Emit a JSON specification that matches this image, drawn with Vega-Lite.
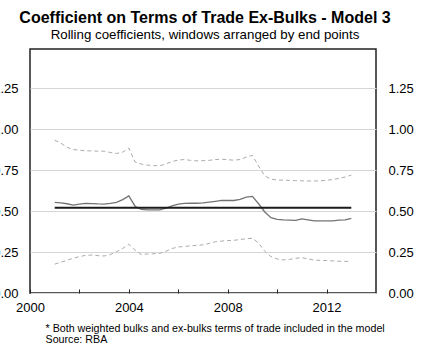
{
  "$schema": "https://vega.github.io/schema/vega-lite/v6.json",
  "width": 346,
  "height": 244,
  "autosize": {"type": "none"},
  "padding": {"left": 30, "top": 49, "right": 52, "bottom": 56},
  "config": {
    "font": "Liberation Sans",
    "view": {"stroke": "#222", "strokeWidth": 1.5},
    "axis": {"labelFont": "Liberation Sans", "labelFontSize": 13, "labelColor": "#000", "titleFont": "Liberation Sans"}
  },
  "title": {
    "text": "Coefficient on Terms of Trade Ex-Bulks - Model 3",
    "subtitle": "Rolling coefficients, windows arranged by end points",
    "font": "Liberation Sans",
    "subtitleFont": "Liberation Sans",
    "fontSize": 16,
    "fontWeight": "bold",
    "subtitleFontSize": 13.3,
    "subtitlePadding": 2,
    "color": "#000",
    "subtitleColor": "#000",
    "anchor": "middle",
    "dx": 2,
    "offset": 8
  },
  "data": {
    "values": [
      {"t": 2001.00, "coef": 0.553, "upper": 0.933, "lower": 0.176},
      {"t": 2001.25, "coef": 0.550, "upper": 0.915, "lower": 0.188},
      {"t": 2001.50, "coef": 0.545, "upper": 0.890, "lower": 0.200},
      {"t": 2001.75, "coef": 0.537, "upper": 0.876, "lower": 0.212},
      {"t": 2002.00, "coef": 0.543, "upper": 0.872, "lower": 0.222},
      {"t": 2002.25, "coef": 0.547, "upper": 0.868, "lower": 0.230},
      {"t": 2002.50, "coef": 0.546, "upper": 0.868, "lower": 0.232},
      {"t": 2002.75, "coef": 0.544, "upper": 0.866, "lower": 0.228},
      {"t": 2003.00, "coef": 0.543, "upper": 0.866, "lower": 0.226},
      {"t": 2003.25, "coef": 0.547, "upper": 0.858, "lower": 0.235},
      {"t": 2003.50, "coef": 0.553, "upper": 0.852, "lower": 0.252},
      {"t": 2003.75, "coef": 0.570, "upper": 0.860, "lower": 0.272},
      {"t": 2004.00, "coef": 0.593, "upper": 0.885, "lower": 0.298},
      {"t": 2004.25, "coef": 0.530, "upper": 0.800, "lower": 0.262},
      {"t": 2004.50, "coef": 0.510, "upper": 0.787, "lower": 0.235},
      {"t": 2004.75, "coef": 0.508, "upper": 0.781, "lower": 0.238},
      {"t": 2005.00, "coef": 0.507, "upper": 0.778, "lower": 0.240},
      {"t": 2005.25, "coef": 0.507, "upper": 0.777, "lower": 0.242},
      {"t": 2005.50, "coef": 0.518, "upper": 0.788, "lower": 0.255},
      {"t": 2005.75, "coef": 0.532, "upper": 0.803, "lower": 0.272},
      {"t": 2006.00, "coef": 0.543, "upper": 0.812, "lower": 0.281},
      {"t": 2006.25, "coef": 0.547, "upper": 0.815, "lower": 0.284},
      {"t": 2006.50, "coef": 0.548, "upper": 0.810, "lower": 0.288},
      {"t": 2006.75, "coef": 0.548, "upper": 0.807, "lower": 0.291},
      {"t": 2007.00, "coef": 0.550, "upper": 0.808, "lower": 0.294},
      {"t": 2007.25, "coef": 0.555, "upper": 0.810, "lower": 0.303},
      {"t": 2007.50, "coef": 0.560, "upper": 0.815, "lower": 0.313},
      {"t": 2007.75, "coef": 0.565, "upper": 0.817, "lower": 0.317},
      {"t": 2008.00, "coef": 0.565, "upper": 0.814, "lower": 0.320},
      {"t": 2008.25, "coef": 0.565, "upper": 0.811, "lower": 0.322},
      {"t": 2008.50, "coef": 0.572, "upper": 0.815, "lower": 0.326},
      {"t": 2008.75, "coef": 0.585, "upper": 0.830, "lower": 0.332},
      {"t": 2009.00, "coef": 0.590, "upper": 0.840, "lower": 0.334},
      {"t": 2009.25, "coef": 0.545, "upper": 0.775, "lower": 0.305},
      {"t": 2009.50, "coef": 0.495, "upper": 0.715, "lower": 0.255},
      {"t": 2009.75, "coef": 0.460, "upper": 0.695, "lower": 0.222},
      {"t": 2010.00, "coef": 0.450, "upper": 0.690, "lower": 0.208},
      {"t": 2010.25, "coef": 0.446, "upper": 0.689, "lower": 0.202},
      {"t": 2010.50, "coef": 0.445, "upper": 0.688, "lower": 0.205},
      {"t": 2010.75, "coef": 0.444, "upper": 0.686, "lower": 0.212},
      {"t": 2011.00, "coef": 0.453, "upper": 0.685, "lower": 0.216},
      {"t": 2011.25, "coef": 0.447, "upper": 0.684, "lower": 0.208},
      {"t": 2011.50, "coef": 0.441, "upper": 0.684, "lower": 0.201},
      {"t": 2011.75, "coef": 0.440, "upper": 0.685, "lower": 0.199},
      {"t": 2012.00, "coef": 0.440, "upper": 0.688, "lower": 0.198},
      {"t": 2012.25, "coef": 0.441, "upper": 0.693, "lower": 0.196},
      {"t": 2012.50, "coef": 0.445, "upper": 0.700, "lower": 0.194},
      {"t": 2012.75, "coef": 0.447, "upper": 0.708, "lower": 0.193},
      {"t": 2013.00, "coef": 0.456, "upper": 0.720, "lower": 0.192}
    ]
  },
  "layer": [
    {
      "mark": {"type": "line", "color": "#ababab", "strokeWidth": 1, "strokeDash": [4, 3]},
      "encoding": {
        "x": {
          "field": "t", "type": "quantitative",
          "scale": {"domain": [2000, 2014], "nice": false, "zero": false},
          "axis": {
            "values": [2000, 2001, 2002, 2003, 2004, 2005, 2006, 2007, 2008, 2009, 2010, 2011, 2012, 2013],
            "format": "d",
            "labelExpr": "datum.value % 4 === 0 ? datum.label : ''",
            "tickSize": -4, "tickColor": "#222", "tickWidth": 1,
            "labelPadding": 12, "labelFlush": false, "labelOverlap": false,
            "domain": false, "grid": false,
            "title": ["* Both weighted bulks and ex-bulks terms of trade included in the model", "Source: RBA"],
            "titleFontSize": 10.7, "titleFontWeight": "normal", "titleColor": "#000",
            "titleAlign": "left", "titleBaseline": "alphabetic", "titleAnchor": "start",
            "titleX": 15, "titleY": 38, "titleLineHeight": 11
          }
        },
        "y": {
          "field": "lower", "type": "quantitative",
          "scale": {"domain": [0, 1.49], "nice": false},
          "axis": {
            "orient": "left", "values": [0, 0.25, 0.5, 0.75, 1, 1.25], "format": ".2f",
            "grid": true, "gridColor": "#d6d6d6", "gridWidth": 1,
            "tickSize": 0, "labelPadding": 12, "domain": false, "title": null
          }
        }
      }
    },
    {
      "mark": {"type": "line", "color": "#ababab", "strokeWidth": 1, "strokeDash": [4, 3]},
      "encoding": {
        "x": {"field": "t", "type": "quantitative"},
        "y": {
          "field": "upper", "type": "quantitative",
          "axis": {
            "orient": "right", "values": [0, 0.25, 0.5, 0.75, 1, 1.25], "format": ".2f",
            "grid": false, "tickSize": 0, "labelPadding": 12, "domain": false, "title": null
          }
        }
      }
    },
    {
      "mark": {"type": "line", "color": "#737373", "strokeWidth": 1.3},
      "encoding": {
        "x": {"field": "t", "type": "quantitative"},
        "y": {"field": "coef", "type": "quantitative", "axis": null}
      }
    },
    {
      "data": {"values": [{"t": 2001, "full": 0.52}, {"t": 2013, "full": 0.52}]},
      "mark": {"type": "line", "color": "#1a1a1a", "strokeWidth": 2},
      "encoding": {
        "x": {"field": "t", "type": "quantitative"},
        "y": {"field": "full", "type": "quantitative", "axis": null}
      }
    }
  ],
  "resolve": {"axis": {"y": "independent"}}
}
